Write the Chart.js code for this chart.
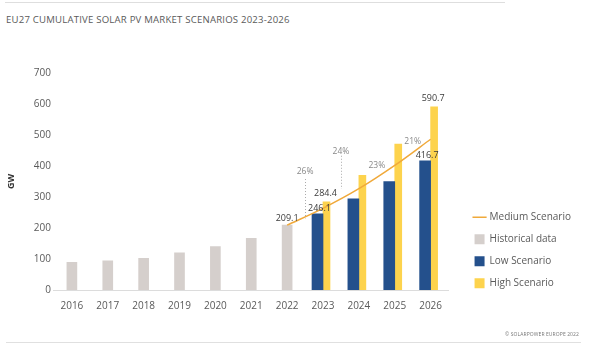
<!DOCTYPE html>
<html>
<head>
<meta charset="utf-8">
<script src="https://cdn.jsdelivr.net/npm/chart.js@4.4.0/dist/chart.umd.min.js"></script>
<style>
  html, body { margin: 0; padding: 0; background: #fff; }
  #wrap { position: relative; width: 600px; height: 364px; overflow: hidden; font-family: "Open Sans", sans-serif; }
  #topline { position: absolute; left: 5px; top: 2px; width: 500px; height: 1px; background: #dedede; }
  #title { position: absolute; left: 6px; top: 13px; font-size: 9.6px; color: #5a5a5a; letter-spacing: 0.2px; }
  #bottomline { position: absolute; left: 6px; top: 342px; width: 575px; height: 1px; background: #e0e0e0; }
  #credit { position: absolute; right: 21px; top: 331px; font-size: 5px; color: #777; letter-spacing: 0.1px; }
  canvas { position: absolute; left: 0; top: 0; }
</style>
</head>
<body>
<div id="wrap">
  <div id="topline"></div>
  <div id="title">EU27 CUMULATIVE SOLAR PV MARKET SCENARIOS 2023-2026</div>
  <canvas id="chart" width="600" height="364"></canvas>
  <div id="bottomline"></div>
  <div id="credit">© SOLARPOWER EUROPE 2022</div>
</div>
<script>
// Chart data (GW, cumulative)
const years = ['2016', '2017', '2018', '2019', '2020', '2021', '2022', '2023', '2024', '2025', '2026'];
const historical = [89, 94, 102, 120, 140, 167, 209.1, null, null, null, null];
const lowScenario = [null, null, null, null, null, null, null, 246.1, 294, 349.5, 416.7];
const highScenario = [null, null, null, null, null, null, null, 284.4, 370, 471, 590.7];
const mediumScenario = [null, null, null, null, null, null, 209.1, 263.5, 326.7, 401.9, 486.3];
const yTicks = [0, 100, 200, 300, 400, 500, 600, 700];

// which points get a value label
const labelled = { hist: [6], low: [7, 10], high: [7, 10] };
// height (GW) of the growth % labels, between year i and i+1
const growthAt = { 6: 381, 7: 446, 8: 400, 9: 480 };
// dotted leader lines under some of them (from, to in GW)
const growthLine = { 6: [358, 231], 7: [433, 326] };

const textColor = '#5a5a5a';
const fontFamily = '"Open Sans", sans-serif';

const annotations = {
    id: 'annotations',
    afterDatasetsDraw(chart) {
        const ctx = chart.ctx;
        const x = chart.scales.x;
        const y = chart.scales.y;
        ctx.save();
        ctx.font = '9px ' + fontFamily;
        ctx.fillStyle = '#3a3a3a';
        ctx.textAlign = 'center';
        ctx.textBaseline = 'bottom';

        // value labels above bars
        const sets = [['hist', 1, historical, 0, 2], ['low', 2, lowScenario, 2, 1], ['high', 3, highScenario, -1, 4]];
        sets.forEach(([key, dsIndex, values, dx, dy]) => {
            const meta = chart.getDatasetMeta(dsIndex);
            labelled[key].forEach(i => {
                const bar = meta.data[i];
                ctx.fillText(values[i].toFixed(1), bar.x + dx, bar.y - dy);
            });
        });

        // growth % between years on the medium scenario
        ctx.font = '8.5px ' + fontFamily;
        ctx.fillStyle = '#888';
        ctx.textBaseline = 'middle';
        Object.keys(growthAt).forEach(k => {
            const i = Number(k);
            const pct = Math.round((mediumScenario[i + 1] / mediumScenario[i] - 1) * 100);
            const px = (x.getPixelForValue(i) + x.getPixelForValue(i + 1)) / 2;
            const py = y.getPixelForValue(growthAt[k]);
            ctx.fillText(pct + '%', px, py);
            if (growthLine[k]) {
                ctx.beginPath();
                ctx.setLineDash([1, 2]);
                ctx.strokeStyle = '#aaa';
                ctx.lineWidth = 1;
                ctx.moveTo(Math.round(px) + 0.5, y.getPixelForValue(growthLine[k][0]));
                ctx.lineTo(Math.round(px) + 0.5, y.getPixelForValue(growthLine[k][1]));
                ctx.stroke();
                ctx.setLineDash([]);
            }
        });
        ctx.restore();
    }
};

const ctx = document.getElementById('chart').getContext('2d');
new Chart(ctx, {
    type: 'bar',
    data: {
        labels: years,
        datasets: [{
            type: 'line',
            label: 'Medium Scenario',
            data: mediumScenario,
            borderColor: '#f0a93a',
            backgroundColor: '#f0a93a',
            borderWidth: 1.5,
            pointRadius: 0,
            tension: 0.3,
            pointStyle: 'line'
        }, {
            label: 'Historical data',
            data: historical,
            backgroundColor: '#d5cfcc',
            barThickness: 10,
            pointStyle: 'rect'
        }, {
            label: 'Low Scenario',
            data: lowScenario,
            backgroundColor: '#24508c',
            barThickness: 11,
            pointStyle: 'rect'
        }, {
            label: 'High Scenario',
            data: highScenario,
            backgroundColor: '#fdd34d',
            barThickness: 7,
            pointStyle: 'rect'
        }]
    },
    options: {
        responsive: false,
        animation: false,
        skipNull: true,
        layout: { padding: { top: 73, left: 0, right: 19, bottom: 42 } },
        plugins: {
            legend: {
                position: 'right',
                align: 'start',
                fullSize: true,
                maxWidth: 200,
                title: { display: true, text: ' ', font: { size: 1 }, padding: { top: 126, bottom: 0 } },
                labels: {
                    usePointStyle: true,
                    boxWidth: 10,
                    boxHeight: 10,
                    padding: 12,
                    color: textColor,
                    font: { family: fontFamily, size: 10 }
                }
            },
            tooltip: { enabled: false }
        },
        scales: {
            x: {
                grid: { display: false, drawTicks: false },
                border: { color: '#dcdcdc' },
                ticks: { color: textColor, font: { family: fontFamily, size: 10 }, padding: 10 }
            },
            y: {
                min: 0,
                max: 700,
                afterBuildTicks: axis => { axis.ticks = yTicks.map(v => ({ value: v })); },
                grid: { display: false, drawTicks: false },
                border: { display: false },
                ticks: { color: textColor, font: { family: fontFamily, size: 10 }, padding: 3 },
                title: { display: true, text: 'GW', color: '#333', font: { family: fontFamily, size: 9, weight: 'bold' }, padding: { top: 6, bottom: 14 } }
            },
            // empty right axis, only keeps a gap between the plot and the legend
            gap: {
                position: 'right',
                grid: { display: false, drawTicks: false },
                border: { display: false },
                ticks: { display: false },
                afterFit: axis => { axis.width = 14; }
            }
        }
    },
    plugins: [annotations]
});
</script>
</body>
</html>
